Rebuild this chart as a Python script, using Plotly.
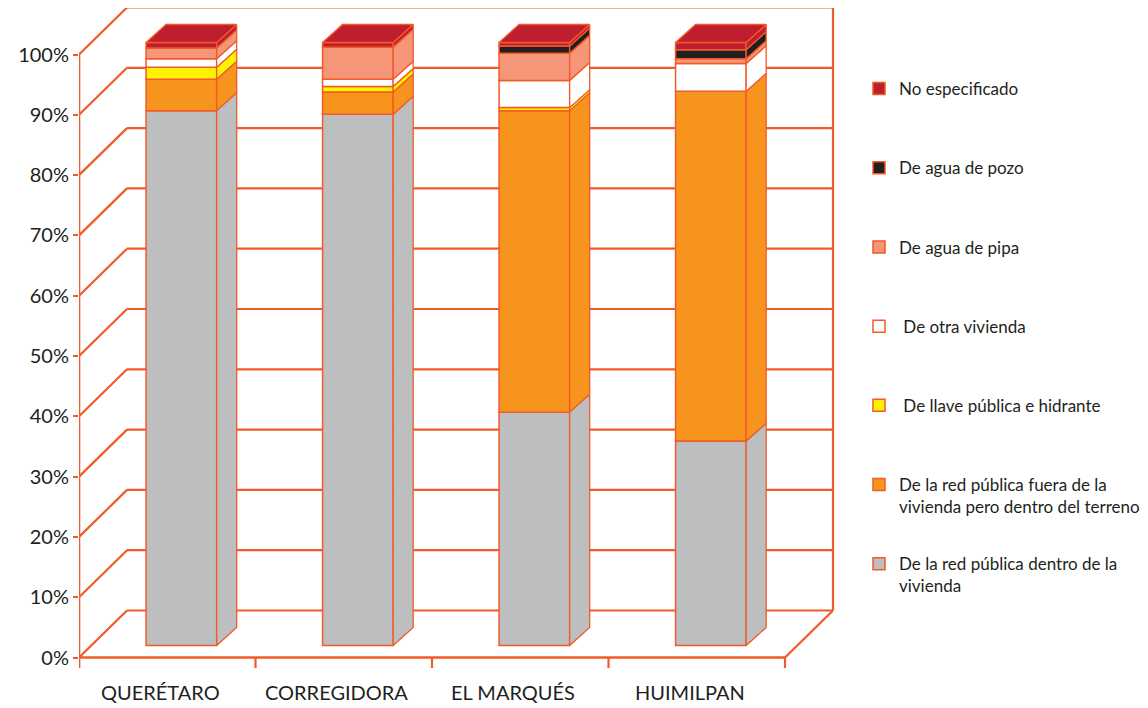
import plotly.graph_objects as go
import numpy as np

# ---------------- data ----------------
categories = ["QUERÉTARO", "CORREGIDORA", "EL MARQUÉS", "HUIMILPAN"]
# stacked from bottom to top (percent)
red_dentro = [88.7, 88.1, 38.7, 33.9]     # De la red pública dentro de la vivienda
red_fuera = [5.2, 3.7, 50.0, 58.0]        # fuera de la vivienda pero dentro del terreno
llave = [2.0, 0.9, 0.5, 0.0]              # De llave pública e hidrante
otra_viv = [1.4, 1.2, 4.5, 4.6]           # De otra vivienda
pipa = [1.8, 5.3, 4.5, 0.8]               # De agua de pipa
pozo = [0.0, 0.0, 1.2, 1.5]               # De agua de pozo
no_esp = [0.9, 0.8, 0.6, 1.2]             # No especificado

series_names = [
    "De la red pública dentro de la<br>vivienda",
    "De la red pública fuera de la<br>vivienda pero dentro del terreno",
    " De llave pública e hidrante<br> ",
    " De otra vivienda<br> ",
    "De agua de pipa<br> ",
    "De agua de pozo<br> ",
    "No especificado<br> ",
]
series_values = [red_dentro, red_fuera, llave, otra_viv, pipa, pozo, no_esp]
series_colors = ["#BCBEC0", "#F7941D", "#FFF200", "#FFFFFF", "#F69679", "#231F20", "#BE1E2D"]
y_ticks = list(range(0, 101, 10))

# ---------------- geometry (pixel-based layout) ----------------
OFF = 8                      # page body margin of the html page
W, H = 1148 - OFF, 708 - OFF
PX_CAT = 176.5               # pixels per category
PX_PCT = 6.03                # pixels per percent
Y0_PX = 657.5 - OFF          # pixel row of 0 %
PLOT_L, PLOT_R, PLOT_T, PLOT_B = 79 - OFF, W, 0, H

EDGE = "#F15A29"
TXT = "#231F20"

back_dx = 48 / PX_CAT       # depth of the box (x units)
back_dy = 47 / PX_PCT       # depth of the box (y units)
bar_front_dy = 12 / PX_PCT
side_dx = 20 / PX_CAT
side_dy = 18 / PX_PCT
bar_w = 0.4
bar_off = 0.08
n = len(categories)

fig = go.Figure()

# front faces: stacked bars
xc = [i + 0.5 + bar_off for i in range(n)]
cum = np.zeros(n)
bounds = []
for k, (name, vals, col) in enumerate(zip(series_names, series_values, series_colors)):
    vals = np.array(vals, dtype=float)
    base = cum + bar_front_dy
    fig.add_trace(go.Bar(
        x=xc, y=vals, base=base, width=bar_w, name=name, legendgroup=f"g{k}",
        marker=dict(color=col, line=dict(color=EDGE, width=1.5)),
        hoverinfo="skip", legendrank=100 - k,
    ))
    bounds.append((base.copy(), base + vals, col))
    cum = cum + vals

# side faces
for (b0, b1, col) in bounds:
    xs, ys = [], []
    for i in range(n):
        if b1[i] - b0[i] <= 0:
            continue
        xr = xc[i] + bar_w / 2
        xs += [xr, xr + side_dx, xr + side_dx, xr, xr, None]
        ys += [b0[i], b0[i] + side_dy, b1[i] + side_dy, b1[i], b0[i], None]
    fig.add_trace(go.Scatter(x=xs, y=ys, mode="lines", fill="toself", fillcolor=col,
                             line=dict(color=EDGE, width=1.3), showlegend=False,
                             hoverinfo="skip"))

# top faces
top_b = bounds[-1][1]
xs, ys = [], []
for i in range(n):
    xl = xc[i] - bar_w / 2
    xr = xc[i] + bar_w / 2
    t = top_b[i]
    xs += [xl, xr, xr + side_dx, xl + side_dx, xl, None]
    ys += [t, t, t + side_dy, t + side_dy, t, None]
fig.add_trace(go.Scatter(x=xs, y=ys, mode="lines", fill="toself", fillcolor=series_colors[-1],
                         line=dict(color=EDGE, width=1.3), showlegend=False, hoverinfo="skip"))

# ---------------- box / gridlines (shapes below) ----------------
shapes = []
x_end = n + back_dx
def ln(x0, y0, x1, y1, w=2.2):
    shapes.append(dict(type="line", xref="x", yref="y", x0=x0, y0=y0, x1=x1, y1=y1,
                       line=dict(color=EDGE, width=w), layer="below"))
for v in y_ticks:
    ln(0, v, back_dx, v + back_dy)
    ln(back_dx, v + back_dy, x_end, v + back_dy)
ln(x_end, back_dy, x_end, 100 + back_dy)
# floor front edge + right diagonal
ln(0, 0, n, 0, 2.6)
ln(n, 0, x_end, back_dy)
# front vertical axis
ln(0, -10.5 / PX_PCT, 0, 100, 2.6)
# category tick marks
for i in range(n + 1):
    ln(i, 0, i, -10.5 / PX_PCT, 2.2)

annotations = []
for i, c in enumerate(categories):
    annotations.append(dict(x=i + 0.46, y=-(692 - OFF - Y0_PX) / PX_PCT, xref="x", yref="y",
                            text=c, showarrow=False, font=dict(size=20, color=TXT, family="Lato")))

x_range = [0, (PLOT_R - PLOT_L) / PX_CAT]
y_range = [-(PLOT_B - Y0_PX) / PX_PCT, (Y0_PX - PLOT_T) / PX_PCT]

def px_to_paper_x(px):
    return (px - OFF - PLOT_L) / (PLOT_R - PLOT_L)

def px_to_paper_y(py):
    return (PLOT_B - (py - OFF)) / (PLOT_B - PLOT_T)

fig.update_layout(
    width=W, height=H,
    margin=dict(l=PLOT_L, r=W - PLOT_R, t=PLOT_T, b=H - PLOT_B, autoexpand=False),
    paper_bgcolor="white", plot_bgcolor="white",
    barmode="overlay",
    shapes=shapes, annotations=annotations,
    font=dict(family="Lato", color=TXT),
    xaxis=dict(range=x_range, showgrid=False, zeroline=False, showticklabels=False,
               showline=False, ticks="", fixedrange=True, automargin=False),
    yaxis=dict(range=y_range, showgrid=False, zeroline=False, showline=False,
               tickvals=y_ticks, ticktext=[f"{v}%" for v in y_ticks],
               ticks="outside", ticklen=5, tickwidth=2, tickcolor=EDGE, automargin=False,
               tickfont=dict(size=20, color=TXT, family="Lato"), fixedrange=True),
    legend=dict(x=px_to_paper_x(859), y=px_to_paper_y(71), xanchor="left", yanchor="top",
                valign="top", itemwidth=30, tracegroupgap=32,
                font=dict(size=17, color=TXT, family="Lato"), bgcolor="rgba(0,0,0,0)"),
    showlegend=True,
)

fig.write_html("out.html")
